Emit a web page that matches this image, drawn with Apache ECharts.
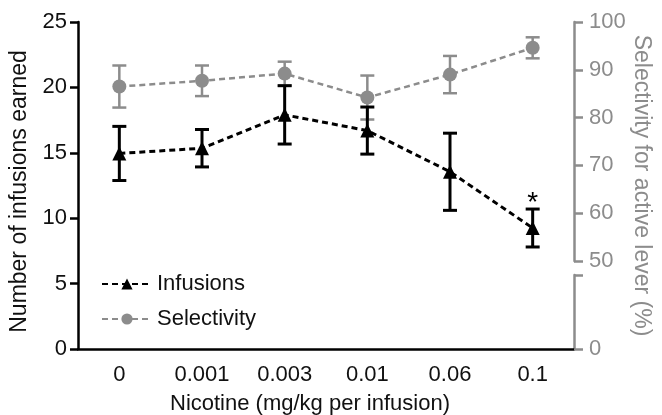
<!DOCTYPE html>
<html>
<head>
<meta charset="utf-8">
<script src="https://cdn.jsdelivr.net/npm/echarts@6/dist/echarts.min.js"></script>
<style>
  html, body { margin: 0; padding: 0; background: #fff; }
  #main { width: 662px; height: 415px; }
</style>
</head>
<body>
<div id="main"></div>
<script>
// nicotine dose on the x axis
const doses = ['0', '0.001', '0.003', '0.01', '0.06', '0.1'];
// left axis: number of infusions earned (mean, SEM)
const infusions = [14.95, 15.35, 17.9, 16.7, 13.55, 9.25];
const infusionsSem = [2.07, 1.43, 2.23, 1.8, 2.95, 1.45];
// right axis: selectivity for active lever % (mean, SEM)
const selectivity = [86.5, 87.7, 89.2, 84.2, 89.0, 94.6];
const selectivitySem = [4.4, 3.2, 2.5, 4.6, 3.9, 2.2];
const sigMarks = ['', '', '', '', '', '*'];
const leftTicks = [0, 5, 10, 15, 20, 25];
const rightTicks = [50, 60, 70, 80, 90, 100];

const GREY = '#8c8c8c';
const FONT = 'Liberation Sans';

const chart = echarts.init(document.getElementById('main'), null, { renderer: 'canvas' });

function errorBars(mean, sem, marks) {
  return doses.map((d, i) => [i, mean[i] - sem[i], mean[i] + sem[i], marks ? marks[i] : '']);
}

function renderBar(color, lw) {
  return function (params, api) {
    const x = api.value(0);
    const lo = api.coord([x, api.value(1)]);
    const hi = api.coord([x, api.value(2)]);
    const half = 7;
    const style = { stroke: color, lineWidth: lw };
    const kids = [
      { type: 'line', shape: { x1: lo[0], y1: lo[1], x2: hi[0], y2: hi[1] }, style },
      { type: 'line', shape: { x1: lo[0] - half, y1: lo[1], x2: lo[0] + half, y2: lo[1] }, style },
      { type: 'line', shape: { x1: hi[0] - half, y1: hi[1], x2: hi[0] + half, y2: hi[1] }, style }
    ];
    const mark = api.value(3);
    if (mark) {
      kids.push({
        type: 'text',
        style: {
          text: mark, x: hi[0], y: hi[1] + 8, align: 'center', verticalAlign: 'bottom',
          fill: '#000', font: '28px ' + FONT
        }
      });
    }
    return { type: 'group', children: kids };
  };
}

const option = {
  animation: false,
  textStyle: { fontFamily: FONT },
  grid: [
    { left: 78, right: 88, top: 22, bottom: 66, outerBoundsMode: 'none' },   // main: infusions
    { left: 78, right: 88, top: 22, bottom: 154, outerBoundsMode: 'none' },  // selectivity 50-100
    { left: 78, right: 88, top: 275, bottom: 66, outerBoundsMode: 'none' }   // selectivity broken part (0)
  ],
  legend: {
    orient: 'vertical',
    left: 96,
    top: 268,
    itemWidth: 50,
    itemHeight: 14,
    itemGap: 13,
    textStyle: { fontSize: 22, color: '#111', fontFamily: FONT },
    data: ['Infusions', 'Selectivity']
  },
  xAxis: [
    {
      gridIndex: 0,
      type: 'category',
      data: doses,
      boundaryGap: true,
      name: 'Nicotine (mg/kg per infusion)',
      nameLocation: 'middle',
      nameGap: 44,
      nameTextStyle: { fontSize: 22, color: '#111', padding: [0, 32, 0, 0] },
      axisLine: { lineStyle: { color: '#000', width: 2.5 } },
      axisTick: { alignWithLabel: true, length: 6, lineStyle: { color: '#000', width: 2.5 } },
      axisLabel: { fontSize: 22, color: '#111', margin: 15 },
      splitLine: { show: false }
    },
    { gridIndex: 1, type: 'category', data: doses, show: false },
    { gridIndex: 2, type: 'category', data: doses, show: false }
  ],
  yAxis: [
    {
      gridIndex: 0,
      type: 'value',
      position: 'left',
      min: leftTicks[0],
      max: leftTicks[leftTicks.length - 1],
      interval: 5,
      name: 'Number of infusions earned',
      nameLocation: 'middle',
      nameGap: 41,
      nameTextStyle: { fontSize: 23, color: '#111', padding: [0, 12, 0, 0] },
      axisLine: { show: true, lineStyle: { color: '#000', width: 2.5 } },
      axisTick: { show: true, length: 8, lineStyle: { color: '#000', width: 2.5 } },
      axisLabel: { fontSize: 22, color: '#111', margin: 11 },
      splitLine: { show: false }
    },
    {
      gridIndex: 1,
      type: 'value',
      position: 'right',
      min: rightTicks[0],
      max: rightTicks[rightTicks.length - 1],
      interval: 10,
      axisLine: { show: true, lineStyle: { color: GREY, width: 2.5 } },
      axisTick: { show: true, length: 9, lineStyle: { color: GREY, width: 2.5 } },
      axisLabel: { fontSize: 22, color: GREY, margin: 15 },
      splitLine: { show: false }
    },
    {
      gridIndex: 2,
      type: 'value',
      position: 'right',
      min: 0,
      max: 10,
      interval: 10,
      axisLine: { show: true, lineStyle: { color: GREY, width: 2.5 } },
      axisTick: { show: true, length: 9, lineStyle: { color: GREY, width: 2.5 } },
      axisLabel: { fontSize: 22, color: GREY, margin: 15, formatter: v => (v === 0 ? '0' : '') },
      splitLine: { show: false }
    },
    {
      // carries only the right-hand title, centred on the full height
      gridIndex: 0,
      type: 'value',
      position: 'right',
      min: 0,
      max: 25,
      name: 'Selectivity for active lever (%)',
      nameLocation: 'middle',
      nameRotate: -90,
      nameGap: 56,
      nameTextStyle: { fontSize: 23, color: GREY },
      axisLine: { show: false },
      axisTick: { show: false },
      axisLabel: { show: false },
      splitLine: { show: false }
    }
  ],
  series: [
    {
      name: 'Selectivity',
      type: 'line',
      xAxisIndex: 1,
      yAxisIndex: 1,
      data: selectivity,
      symbol: 'circle',
      symbolSize: 14,
      z: 3,
      lineStyle: { color: GREY, width: 2.5, type: [6, 4] },
      itemStyle: { color: GREY }
    },
    {
      type: 'custom',
      xAxisIndex: 1,
      yAxisIndex: 1,
      data: errorBars(selectivity, selectivitySem),
      renderItem: renderBar(GREY, 2.5),
      encode: { x: 0, y: [1, 2] },
      clip: false,
      z: 2,
      silent: true
    },
    {
      name: 'Infusions',
      type: 'line',
      xAxisIndex: 0,
      yAxisIndex: 0,
      data: infusions,
      symbol: 'triangle',
      symbolSize: 14,
      z: 5,
      lineStyle: { color: '#000', width: 3, type: [6, 4] },
      itemStyle: { color: '#000' }
    },
    {
      type: 'custom',
      xAxisIndex: 0,
      yAxisIndex: 0,
      data: errorBars(infusions, infusionsSem, sigMarks),
      renderItem: renderBar('#000', 3),
      encode: { x: 0, y: [1, 2] },
      clip: false,
      z: 4,
      silent: true
    }
  ]
};

chart.setOption(option);
</script>
</body>
</html>
